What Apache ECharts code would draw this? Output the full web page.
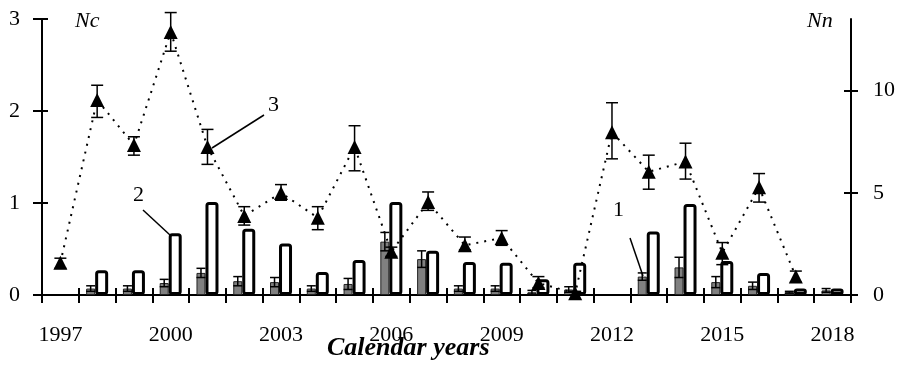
<!DOCTYPE html>
<html>
<head>
<meta charset="utf-8">
<script src="https://cdn.jsdelivr.net/npm/echarts@6/dist/echarts.min.js"></script>
<style>html,body{margin:0;padding:0;background:#fff}#c{width:898px;height:370px}</style>
</head>
<body>
<div id="c"></div>
<script>
var years = ['1997','1998','1999','2000','2001','2002','2003','2004','2005','2006','2007','2008','2009','2010','2011','2012','2013','2014','2015','2016','2017','2018'];
// series 1 (grey bars)
var s1 = [null,0.07,0.07,0.13,0.24,0.15,0.14,0.07,0.12,0.58,0.39,0.07,0.07,0.03,0.06,null,0.20,0.30,0.14,0.10,0.03,0.05];
var s1err = [null,0.03,0.03,0.04,0.05,0.05,0.05,0.03,0.06,0.10,0.09,0.03,0.03,0.02,0.03,null,0.04,0.11,0.06,0.04,0.01,0.02];
// series 2 (white bars)
var s2 = [null,0.27,0.27,0.67,1.01,0.72,0.56,0.25,0.38,1.01,0.48,0.36,0.35,0.17,0.35,null,0.69,0.99,0.37,0.24,0.07,0.07];
// series 3 (triangles) with error bounds
var s3 = [0.35,2.12,1.63,2.86,1.61,0.86,1.11,0.84,1.61,0.47,1.01,0.54,0.62,0.13,0.02,1.77,1.34,1.45,0.46,1.17,0.20,null];
var s3lo = [0.29,1.93,1.52,2.65,1.42,0.76,1.03,0.71,1.35,0.42,0.92,0.49,0.54,0.08,0.00,1.48,1.15,1.26,0.33,1.01,0.14,null];
var s3hi = [0.40,2.28,1.72,3.07,1.80,0.96,1.20,0.96,1.84,0.52,1.12,0.63,0.70,0.20,0.04,2.09,1.52,1.65,0.57,1.32,0.26,null];
var leftTicks = [0,1,2,3];
var rightTicks = [0,5,10];

var FONT = '"Times New Roman", "Liberation Serif", Times, serif';

function errData(vals, lo, hi){
  var out=[];
  for (var i=0;i<vals.length;i++){ if(vals[i]!=null && lo[i]!=null) out.push([i, lo[i], hi[i]]); }
  return out;
}
var s1lo = s1.map(function(v,i){return v==null?null:Math.max(0,v-s1err[i]);});
var s1hi = s1.map(function(v,i){return v==null?null:v+s1err[i];});

function errRender(offset, capHalf, lw){
  return function(params, api){
    var i = api.value(0);
    var a = api.coord([i, api.value(1)]);
    var b = api.coord([i, api.value(2)]);
    var x = a[0] + offset;
    var st = {stroke:'#000', lineWidth:lw};
    return {type:'group', children:[
      {type:'line', shape:{x1:x,y1:a[1],x2:x,y2:b[1]}, style:st},
      {type:'line', shape:{x1:x-capHalf,y1:a[1],x2:x+capHalf,y2:a[1]}, style:st},
      {type:'line', shape:{x1:x-capHalf,y1:b[1],x2:x+capHalf,y2:b[1]}, style:st}
    ]};
  };
}

var chart = echarts.init(document.getElementById('c'), null, {renderer:'canvas'});
var axisLine = {show:true, lineStyle:{color:'#000', width:2}};
chart.setOption({
  animation:false,
  backgroundColor:'#fff',
  textStyle:{fontFamily:FONT},
  grid:{left:42, right:42, top:19, bottom:75, containLabel:false},
  xAxis:[
    {type:'category', data:years, position:'bottom', boundaryGap:true,
     axisLine:axisLine,
     axisTick:{show:true, interval:0, length:8, lineStyle:{color:'#000', width:2}},
     axisLabel:{interval:2, margin:29, fontSize:22, color:'#000', fontFamily:FONT},
     splitLine:{show:false}},
    {type:'category', data:years, position:'bottom', boundaryGap:true,
     axisLine:{show:false},
     axisTick:{show:true, inside:true, interval:0, length:7, lineStyle:{color:'#000', width:2}},
     axisLabel:{show:false}, splitLine:{show:false}}
  ],
  yAxis:[
    {type:'value', min:0, max:3, interval:1, position:'left',
     axisLine:axisLine,
     axisTick:{show:true, length:9, lineStyle:{color:'#000', width:2}},
     axisLabel:{margin:22, fontSize:22, color:'#000', fontFamily:FONT},
     splitLine:{show:false}},
    {type:'value', min:0, max:13.5, position:'right',
     axisLine:axisLine,
     axisTick:{show:true, length:7, customValues:rightTicks, lineStyle:{color:'#000', width:2}},
     axisLabel:{margin:22, fontSize:22, color:'#000', fontFamily:FONT, customValues:rightTicks},
     splitLine:{show:false}},
    {type:'value', min:0, max:3, interval:1, position:'left',
     axisLine:{show:false},
     axisTick:{show:true, inside:true, length:6, lineStyle:{color:'#000', width:2}},
     axisLabel:{show:false}, splitLine:{show:false}},
    {type:'value', min:0, max:13.5, position:'right',
     axisLine:{show:false},
     axisTick:{show:true, inside:true, length:7, customValues:rightTicks, lineStyle:{color:'#000', width:2}},
     axisLabel:{show:false}, splitLine:{show:false}}
  ],
  series:[
    {name:'1', type:'bar', data:s1, barWidth:9, barGap:'0%', xAxisIndex:0, yAxisIndex:0,
     itemStyle:{color:'#808080', borderColor:'#222', borderWidth:1}, z:2},
    {name:'2', type:'bar', data:s2, barWidth:13, barGap:'0%', xAxisIndex:0, yAxisIndex:0,
     itemStyle:{color:'#fff', borderColor:'#000', borderWidth:3, borderRadius:2}, z:2},
    {name:'e1', type:'custom', xAxisIndex:0, yAxisIndex:0, data:errData(s1, s1lo, s1hi),
     encode:{x:0, y:[1,2]}, renderItem:errRender(-6.5, 4.5, 1.5), z:3},
    {name:'3', type:'line', data:s3, xAxisIndex:0, yAxisIndex:0, symbol:'triangle', symbolSize:[14,14],
     showSymbol:true, connectNulls:false,
     lineStyle:{color:'#000', width:2, type:[2,6]},
     itemStyle:{color:'#000', borderColor:'#000', borderWidth:0}, z:5},
    {name:'e3', type:'custom', xAxisIndex:0, yAxisIndex:0, data:errData(s3, s3lo, s3hi),
     encode:{x:0, y:[1,2]}, renderItem:errRender(0, 6, 1.5), z:6}
  ],
  graphic:[
    {type:'text', left:75, top:10, style:{text:'Nc', fontFamily:FONT, fontStyle:'italic', fontSize:22, fill:'#000'}},
    {type:'text', left:807, top:10, style:{text:'Nn', fontFamily:FONT, fontStyle:'italic', fontSize:22, fill:'#000'}},
    {type:'text', left:268, top:94, style:{text:'3', fontFamily:FONT, fontSize:22, fill:'#000'}},
    {type:'line', shape:{x1:264,y1:115,x2:212,y2:148}, style:{stroke:'#000', lineWidth:1.5}},
    {type:'text', left:133, top:184, style:{text:'2', fontFamily:FONT, fontSize:22, fill:'#000'}},
    {type:'line', shape:{x1:143,y1:210,x2:170,y2:235}, style:{stroke:'#000', lineWidth:1.5}},
    {type:'text', left:613, top:199, style:{text:'1', fontFamily:FONT, fontSize:22, fill:'#000'}},
    {type:'line', shape:{x1:630,y1:238,x2:643,y2:276}, style:{stroke:'#000', lineWidth:1.5}},
    {type:'text', left:327, top:335, style:{text:'Calendar years', fontFamily:FONT, fontStyle:'italic', fontWeight:'bold', fontSize:26, fill:'#000'}}
  ]
});
</script>
</body>
</html>
